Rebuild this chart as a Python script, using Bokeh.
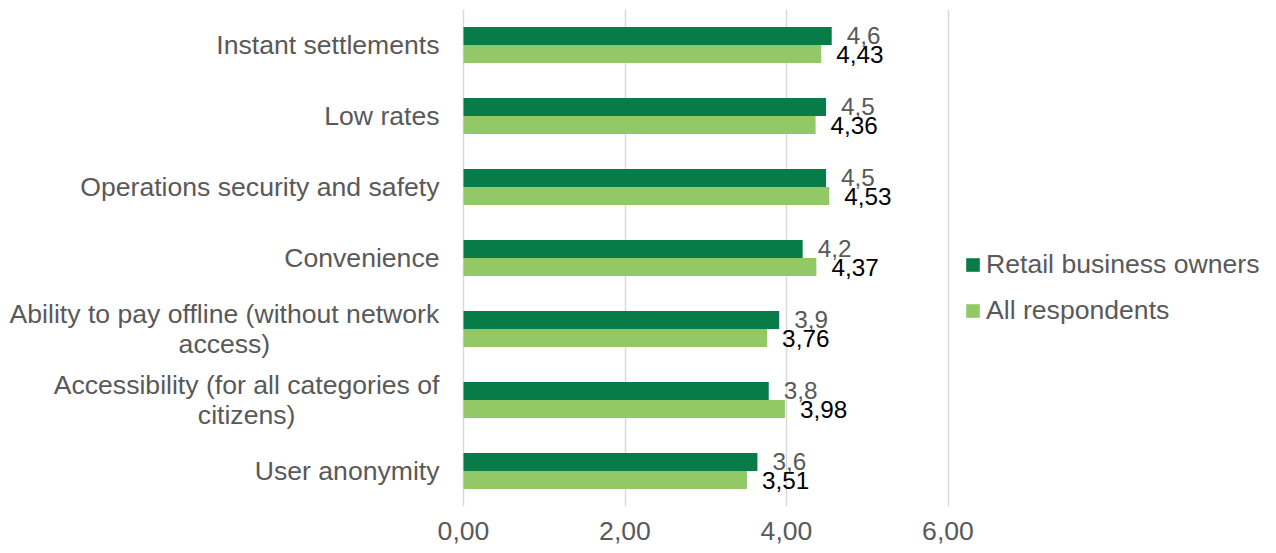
from bokeh.plotting import figure
from bokeh.models import ColumnDataSource, FactorRange, Range1d, FixedTicker, Legend, LegendItem
from bokeh.transform import dodge
from bokeh.embed import file_html
from bokeh.resources import INLINE
from bokeh.core.properties import value

# ---------------- data ----------------
categories = [
    "Instant settlements",
    "Low rates",
    "Operations security and safety",
    "Convenience",
    "Ability to pay offline (without network\naccess)",
    "Accessibility (for all categories of\ncitizens)",
    "User anonymity",
]
retail_owners = [4.56, 4.49, 4.49, 4.20, 3.91, 3.78, 3.64]
all_respondents = [4.43, 4.36, 4.53, 4.37, 3.76, 3.98, 3.51]
series_names = ["Retail business owners", "All respondents"]
x_ticks = [0, 2, 4, 6]
x_tick_labels = ["0,00", "2,00", "4,00", "6,00"]

# ---------------- style / layout ----------------
DARK = "#077C48"
LIGHT = "#92C966"
GRAY = "#595959"
GRID = "#D9D9D9"
FONT = "Liberation Sans"
FS = "26.6px"
LABEL_FS = "24.3px"

W, H = 1270, 552
TOP, BOTTOM = 9, 46
PX = 80.75            # pixels per value unit
LEFT_PX = 463         # pixels left of the value 0
BAR_H = 0.2535
OFF = 0.1268
CAT_GAP = 24          # gap between category labels and the value 0

# Arial / Liberation Sans advance widths (per 1000 em)
AW = {" ": 278, "(": 333, ")": 333, "A": 667, "C": 722, "I": 278, "L": 556, "O": 778,
      "U": 722, "a": 556, "b": 556, "c": 500, "d": 556, "e": 556, "f": 278, "g": 556,
      "h": 556, "i": 222, "k": 500, "l": 222, "m": 833, "n": 556, "o": 556, "p": 556,
      "r": 333, "s": 500, "t": 278, "u": 556, "v": 500, "w": 722, "x": 500, "y": 500, "z": 500}


def text_w(s, px=26.6):
    return sum(AW.get(ch, 556) for ch in s) * px / 1000.0


y_range = FactorRange(factors=categories[::-1])
x_range = Range1d(-LEFT_PX / PX, (W - LEFT_PX) / PX)

fmt1 = lambda v: f"{v:.1f}".replace(".", ",")
fmt2 = lambda v: f"{v:.2f}".replace(".", ",")

src = ColumnDataSource(dict(
    cat=categories,
    retail=retail_owners,
    allr=all_respondents,
    retail_lbl=[fmt1(v) for v in retail_owners],
    all_lbl=[fmt2(v) for v in all_respondents],
))

p = figure(width=W, height=H, y_range=y_range, x_range=x_range,
           output_backend="svg", toolbar_location=None, y_axis_location=None,
           min_border_left=0, min_border_right=0, min_border_top=TOP, min_border_bottom=BOTTOM)
p.outline_line_color = None

r1 = p.hbar(y=dodge("cat", OFF, range=y_range), left=0, right="retail", height=BAR_H,
            fill_color=DARK, line_color=None, source=src)
r2 = p.hbar(y=dodge("cat", -OFF, range=y_range), left=0, right="allr", height=BAR_H,
            fill_color=LIGHT, line_color=None, source=src)

p.text(x="retail", y=dodge("cat", OFF, range=y_range), text="retail_lbl", x_offset=15,
       text_align="left", text_baseline="middle", text_font=value(FONT),
       text_font_size=LABEL_FS, text_color=GRAY, source=src)
p.text(x="allr", y=dodge("cat", -OFF, range=y_range), text="all_lbl", x_offset=15,
       text_align="left", text_baseline="middle", text_font=value(FONT),
       text_font_size=LABEL_FS, text_color="#000000", source=src)

# category labels (right-aligned block, multi-line blocks centred)
single = dict(y=[], t=[], off=[])
multi = dict(y=[], t=[], off=[])
for c in categories:
    lines = c.split("\n")
    if len(lines) == 1:
        single["y"].append(c); single["t"].append(c); single["off"].append(-CAT_GAP)
    else:
        w = max(text_w(s) for s in lines)
        multi["y"].append(c); multi["t"].append(c); multi["off"].append(-CAT_GAP - w / 2)
single["x"] = [0] * len(single["y"])
multi["x"] = [0] * len(multi["y"])

p.text(x="x", y="y", text="t", x_offset="off", source=ColumnDataSource(single),
       text_align="right", text_baseline="middle", text_font=value(FONT),
       text_font_size=FS, text_color=GRAY)
p.text(x="x", y="y", text="t", x_offset="off", source=ColumnDataSource(multi),
       text_align="center", text_baseline="middle", text_font=value(FONT),
       text_font_size=FS, text_color=GRAY, text_line_height=0.98)

xa = p.xaxis[0]
xa.ticker = FixedTicker(ticks=x_ticks)
xa.major_label_overrides = {t: l for t, l in zip(x_ticks, x_tick_labels)}
xa.axis_line_color = None
xa.major_tick_line_color = None
xa.minor_tick_line_color = None
xa.major_tick_out = 0
xa.major_label_standoff = 15
xa.major_label_text_font = FONT
xa.major_label_text_font_size = FS
xa.major_label_text_color = GRAY

p.xgrid.grid_line_color = GRID
p.xgrid.grid_line_width = 1.5
p.xgrid.ticker = FixedTicker(ticks=x_ticks)
p.ygrid.grid_line_color = None

legend = Legend(items=[LegendItem(label=series_names[0], renderers=[r1]),
                       LegendItem(label=series_names[1], renderers=[r2])],
                location=(964, 180), orientation="vertical",
                glyph_width=17, glyph_height=17, label_standoff=5, spacing=15,
                padding=0, margin=0, border_line_color=None, background_fill_alpha=0,
                label_text_font=FONT, label_text_font_size=FS, label_text_color=GRAY)
p.add_layout(legend)

open("out.html", "w").write(file_html(p, INLINE))
